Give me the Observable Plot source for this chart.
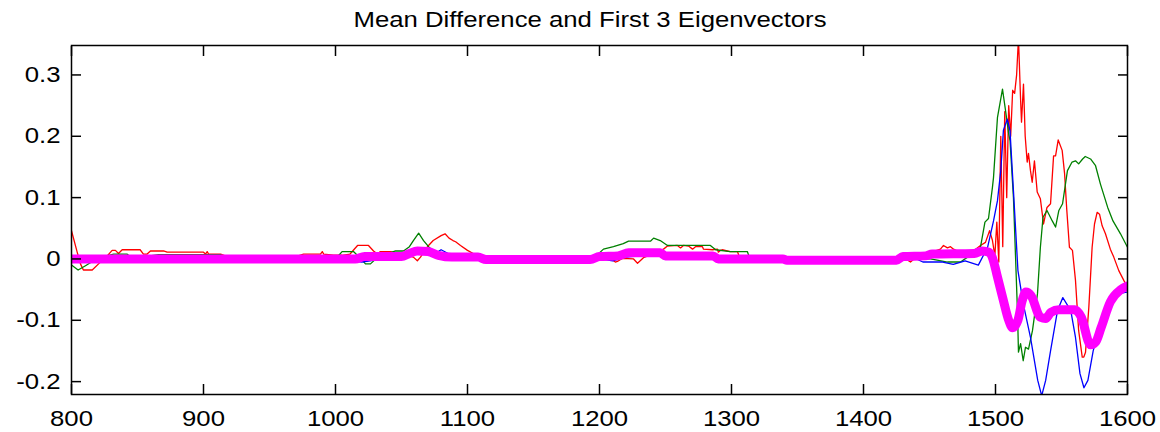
<!DOCTYPE html>
<html><head><meta charset="utf-8">
<script src="https://cdn.jsdelivr.net/npm/d3@7"></script>
<script src="https://cdn.jsdelivr.net/npm/@observablehq/plot@0.6"></script>
<style>
body{margin:0;background:#fff;font-family:"Liberation Sans",Arial,sans-serif;}
#title{height:36px;width:1160px;position:relative;}
#title span{position:absolute;left:590px;top:8px;transform:translateX(-50%) scaleX(1.17);font-size:22px;line-height:24px;white-space:nowrap;color:#000}
</style></head><body>
<div id="title"><span>Mean Difference and First 3 Eigenvectors</span></div>
<div id="chart"></div>
<script>
const xTicks = [800, 900, 1000, 1100, 1200, 1300, 1400, 1500, 1600];
const xLabels = ["800", "900", "1000", "1100", "1200", "1300", "1400", "1500", "1600"];
const yTicks = [-0.2, -0.1, 0, 0.1, 0.2, 0.3];
const yLabels = ["-0.2", "-0.1", "0", "0.1", "0.2", "0.3"];

const red = [[800,0.046],[804.3,0.011],[806.8,-0.008],[809,-0.018],[815.7,-0.018],[820.5,-0.008],[827,0.005],[830.8,0.014],[833.3,0.014],[835.6,0.009],[838.4,0.015],[852,0.015],[854.5,0.008],[857.3,0.008],[859.8,0.013],[869.7,0.013],[872.5,0.011],[900,0.011],[901.5,0.008],[902.8,0.012],[903.8,0.008],[913,0.008],[918,0.004],[970,0.004],[975.8,0.008],[988.6,0.008],[990,0.012],[991,0.008],[998.5,0.006],[1005,0.006],[1011,0.008],[1016.7,0.022],[1025,0.022],[1028.8,0.013],[1031.8,0.008],[1034,0.012],[1041.7,0.012],[1050,0.008],[1055,0.005],[1059,0.003],[1062,-0.003],[1064.4,0.003],[1068,0.015],[1070.5,0.022],[1074,0.03],[1080,0.038],[1083,0.041],[1086,0.034],[1089,0.03],[1091,0.028],[1094.7,0.022],[1100,0.014],[1105,0.008],[1110,0.004],[1115,0],[1190,0],[1195,0.004],[1208,0.005],[1210.6,-0.003],[1212,-0.005],[1213.6,-0.004],[1216,-0.001],[1217.4,0.001],[1225.8,0],[1228.8,-0.007],[1233.3,0.002],[1240,0.008],[1248.5,0.016],[1251.5,0.021],[1259,0.022],[1261.4,0.018],[1263.6,0.022],[1267.4,0.021],[1270.5,0.016],[1272.7,0.02],[1278,0.02],[1278.8,0.016],[1285.6,0.015],[1289.4,0.016],[1290,0.011],[1291.7,0.014],[1293,0.015],[1299,0.012],[1304.5,0.012],[1306,0.003],[1310,0],[1420,0],[1430,0.003],[1435.6,-0.005],[1440,0.003],[1450,0.01],[1458.3,0.016],[1460.6,0.022],[1463.6,0.018],[1465.9,0.02],[1468.2,0.016],[1472,0.012],[1475.8,0.013],[1479.5,0.012],[1483.3,0.013],[1488.6,0.022],[1492.4,0.027],[1495.5,0.046],[1497.7,0.03],[1499.5,0.005],[1501,0.06],[1502.5,-0.005],[1504,0.2],[1505.5,0.02],[1507,0.24],[1508.5,0.1],[1510,0.25],[1511.5,0.2],[1513,0.275],[1514.5,0.27],[1516,0.3],[1517.4,0.36],[1519,0.26],[1519.7,0.223],[1521.2,0.285],[1522.5,0.2],[1524,0.158],[1525,0.172],[1526.5,0.144],[1527.8,0.125],[1529.5,0.16],[1531.6,0.109],[1534,0.098],[1536.4,0.057],[1539,0.084],[1541.7,0.09],[1544,0.168],[1545.5,0.168],[1547.5,0.194],[1550.5,0.177],[1552.3,0.14],[1554,0.08],[1556,0.019],[1558.3,0.014],[1560.6,-0.035],[1563,-0.117],[1565.7,-0.16],[1566.9,-0.16],[1568.2,-0.152],[1570.7,-0.079],[1573.2,0.019],[1575,0.057],[1577,0.076],[1578.8,0.073],[1580.8,0.054],[1583.3,0.041],[1587,0.016],[1589.6,0.003],[1593.4,-0.019],[1597.2,-0.035],[1600,-0.046]];

const green = [[800,-0.01],[805,-0.018],[810.6,-0.011],[816.7,-0.003],[825,0.004],[832,0.008],[842,0.008],[846,0.001],[866,0.007],[913,0.007],[915,0],[1000,0],[1005,0.012],[1013.6,0.012],[1018,0.003],[1022.7,-0.008],[1026.5,-0.008],[1032,0.003],[1045.5,0.013],[1051.5,0.013],[1056,0.02],[1059,0.03],[1063,0.042],[1066.7,0.03],[1070.5,0.02],[1074,0.013],[1080,0.008],[1100,0.007],[1110,0.005],[1115,0],[1195,0],[1203,0.016],[1210.6,0.02],[1218,0.025],[1222,0.029],[1238.6,0.029],[1241,0.034],[1246,0.03],[1251.5,0.022],[1284,0.022],[1288,0.015],[1299,0.012],[1312,0.012],[1314,0],[1440,0],[1450.8,0],[1463.6,-0.005],[1473.5,-0.005],[1478.8,0.003],[1483,0.003],[1486,0.011],[1488.6,0.019],[1492,0.06],[1494.7,0.066],[1497.7,0.117],[1498.5,0.133],[1501.5,0.231],[1505.3,0.277],[1507.6,0.242],[1510,0.204],[1511,0.193],[1513.6,0.1],[1516.7,-0.089],[1517.4,-0.152],[1519,-0.138],[1521,-0.166],[1522.7,-0.144],[1525,-0.147],[1528,-0.117],[1531.8,-0.057],[1534,0.019],[1536,0.068],[1539,0.079],[1543,0.062],[1545.5,0.052],[1548,0.079],[1550.8,0.09],[1554.5,0.144],[1558,0.158],[1560.6,0.16],[1563,0.155],[1566,0.163],[1568,0.167],[1572,0.163],[1575.8,0.152],[1579.5,0.122],[1585,0.084],[1589,0.062],[1594.7,0.041],[1600,0.019]];

const blue = [[800,0],[1000,0],[1020,-0.005],[1030,-0.002],[1050,0.003],[1060,0.008],[1068,0.012],[1075,0.008],[1080,0.015],[1086,0.008],[1100,0.002],[1115,0],[1200,0],[1210,-0.003],[1220,0.003],[1230,0.005],[1245,0.012],[1255,0.008],[1280,0.005],[1300,0],[1440,0],[1445,-0.005],[1460,-0.005],[1468,-0.009],[1477,-0.003],[1487,-0.01],[1494,0.019],[1498.5,0.062],[1501.5,0.095],[1504,0.144],[1506,0.21],[1509,0.228],[1511,0.209],[1513.6,0.111],[1517,-0.019],[1521,-0.073],[1526.5,-0.128],[1532,-0.198],[1535,-0.223],[1538,-0.198],[1541.7,-0.15],[1547,-0.084],[1551,-0.063],[1557,-0.084],[1560.6,-0.128],[1564,-0.187],[1567,-0.21],[1570,-0.198],[1574,-0.15],[1579.5,-0.106],[1585.6,-0.073],[1592,-0.057],[1600,-0.054]];

const meanDiff = [[800,0],[1015,0],[1022,0.004],[1050,0.004],[1056,0.009],[1062,0.013],[1070,0.012],[1078,0.006],[1088,0.003],[1108,0.003],[1114,-0.001],[1193,-0.001],[1200,0.004],[1214,0.005],[1222,0.01],[1246,0.01],[1250,0.005],[1286,0.005],[1290,0],[1339,0],[1342,-0.002],[1425,-0.002],[1430,0.004],[1447,0.005],[1452,0.008],[1484,0.009],[1490,0.013],[1495,0.011],[1498,0.0],[1501,-0.025],[1506,-0.068],[1510,-0.1],[1513,-0.112],[1517,-0.1],[1520,-0.07],[1523,-0.054],[1527,-0.06],[1534,-0.095],[1538,-0.097],[1542,-0.087],[1548,-0.083],[1560,-0.083],[1565,-0.095],[1572,-0.14],[1576,-0.135],[1580,-0.112],[1587,-0.07],[1595,-0.05],[1600,-0.044]];

const X = d => d[0], Y = d => d[1];
const chart = Plot.plot({
  width: 1160, height: 396,
  marginTop: 9, marginBottom: 38, marginLeft: 71, marginRight: 33,
  style: {fontFamily: "'Liberation Sans', Arial, sans-serif", fontSize: "22px", color: "#000", background: "#fff"},
  x: {domain: [800, 1600]},
  y: {domain: [-0.221, 0.348]},
  marks: [
    Plot.line(red, {x: X, y: Y, stroke: "#ff0000", strokeWidth: 1.3, clip: true}),
    Plot.line(green, {x: X, y: Y, stroke: "#008000", strokeWidth: 1.3, clip: true}),
    Plot.line(blue, {x: X, y: Y, stroke: "#0000ff", strokeWidth: 1.3, clip: true}),
    Plot.line(meanDiff, {x: X, y: Y, stroke: "#ff00ff", strokeWidth: 9, curve: "monotone-x", strokeLinejoin: "round", clip: true}),
    Plot.frame({stroke: "#000", strokeWidth: 1.5}),
    Plot.axisY(yTicks, {anchor: "left", tickSize: 0, tickPadding: 11, tickFormat: d => yLabels[yTicks.indexOf(d)], label: null}),
    Plot.axisX(xTicks, {anchor: "bottom", tickSize: 0, tickPadding: 16, tickFormat: d => xLabels[xTicks.indexOf(d)], label: null}),
    Plot.axisY(yTicks, {anchor: "left", tickSize: 10, dx: 10, text: null, label: null, strokeWidth: 1.5}),
    Plot.axisY(yTicks, {anchor: "right", tickSize: 10, dx: -10, text: null, label: null, strokeWidth: 1.5}),
    Plot.axisX(xTicks, {anchor: "bottom", tickSize: 10, dy: -10, text: null, label: null, strokeWidth: 1.5}),
    Plot.axisX(xTicks, {anchor: "top", tickSize: 10, dy: 10, text: null, label: null, strokeWidth: 1.5})
  ]
});
d3.select(chart).selectAll("g[aria-label$='tick label'] text").each(function () {
  const t = this.getAttribute("transform") || "";
  this.setAttribute("transform", t + " scale(1.17,1)");
});
document.getElementById("chart").appendChild(chart);
</script></body></html>
